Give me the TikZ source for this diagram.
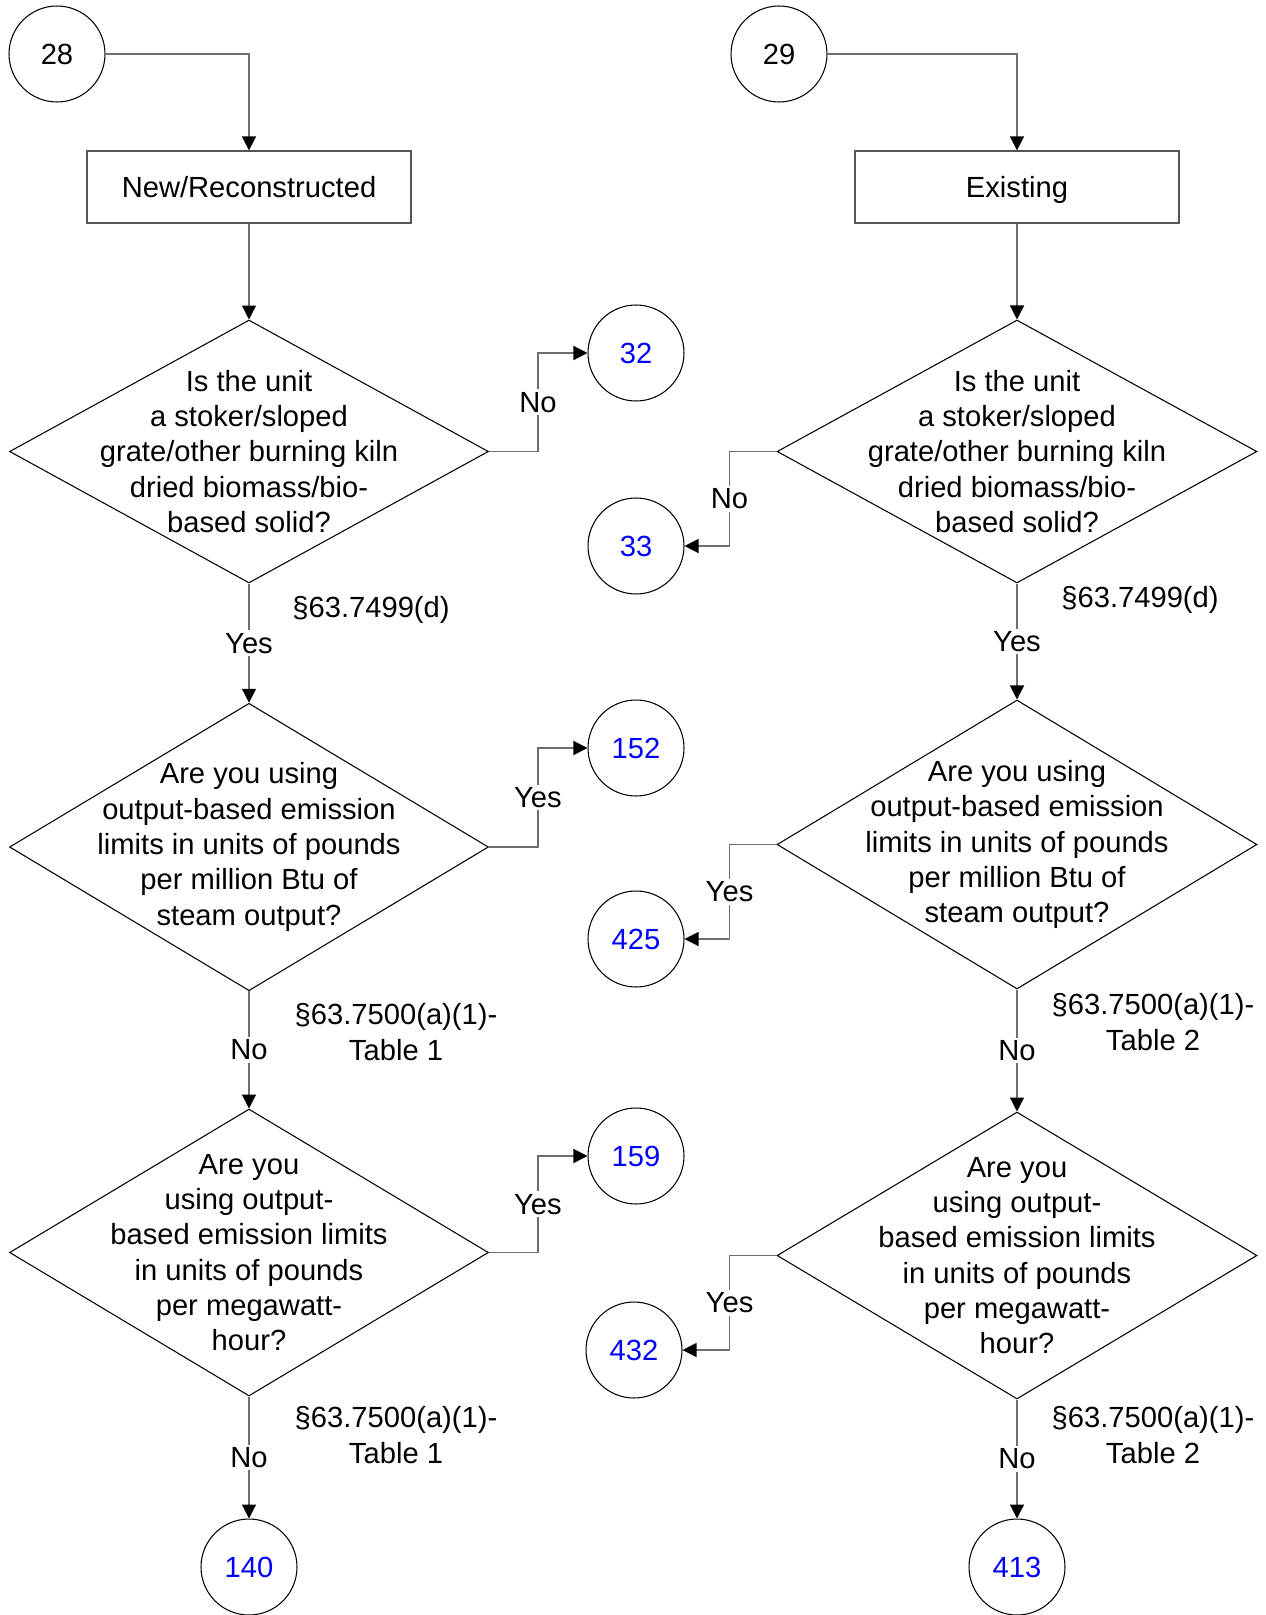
\documentclass[tikz,border=0pt]{standalone}
\usepackage{fontspec}
\setmainfont{Liberation Sans}
\usepackage{xcolor}
\usepackage{tikz}
\usetikzlibrary{arrows.meta,positioning,calc,shapes.geometric}
\definecolor{cInk}{HTML}{000000}
\definecolor{cLink}{HTML}{0000FF}
\definecolor{cWire}{HTML}{6E6E6E}
\definecolor{cEdge}{HTML}{555555}
\tikzset{
  txt/.style={font=\fontsize{16.6}{20.1}\selectfont,text=cInk},
  conn/.style={circle,draw=cInk,line width=0.6pt,minimum size=1.92cm,inner sep=0pt,txt},
  ref/.style={conn,text=cLink},
  procbox/.style={draw=cEdge,line width=0.7pt,minimum width=6.48cm,minimum height=1.44cm,inner sep=0pt,text height=15pt,text depth=3.5pt,txt},
  dec/.style={diamond,draw=cInk,line width=0.6pt,inner sep=0pt,minimum width=#1},
  dec/.default=9.58cm,
  qtext/.style={align=center,txt,inner sep=0pt},
  arr/.style={-{Triangle[length=0.28cm,width=0.28cm,color=cInk]},line width=0.7pt,draw=cWire},
  lbl/.style={txt,fill=white,inner sep=1.5pt},
  cite/.style={txt,align=center},
}

\begin{document}
\begin{tikzpicture}[x=0.02cm,y=-0.02cm]
    \useasboundingbox (0,0) rectangle (1265,1615);
    % left branch: new / reconstructed
    \node[conn] (n28) at (57,54) {28};
    \node[procbox] (newb) at (249,187) {New/Reconstructed};
    \node[dec,minimum height=5.26cm,label={[qtext]center:{Is the unit\\a stoker/sloped\\grate/other burning kiln\\dried biomass/bio-\\based solid?}}] (qa) at (249,451.5) {};
    \node[dec,minimum height=5.75cm,label={[qtext]center:{Are you using\\output-based emission\\limits in units of pounds\\per million Btu of\\steam output?}}] (qb) at (249,847) {};
    \node[dec,minimum height=5.74cm,label={[qtext]center:{Are you\\using output-\\based emission limits\\in units of pounds\\per megawatt-\\hour?}}] (qc) at (249,1252.5) {};
    \node[ref] (n32) at (636,353) {32};
    \node[ref] (n152) at (636,748) {152};
    \node[ref] (n159) at (636,1156) {159};
    \node[ref] (n140) at (249,1567) {140};
    \node[cite] (sa) at (371,610) {§63.7499(d)};
    \node[cite] (sb) at (396,1032) {§63.7500(a)(1)-\\Table 1};
    \node[cite] (sc) at (396,1435) {§63.7500(a)(1)-\\Table 1};

    % right branch: existing
    \node[conn] (n29) at (779,54) {29};
    \node[procbox] (oldb) at (1017,187) {Existing};
    \node[dec=9.6cm,minimum height=5.26cm,label={[qtext]center:{Is the unit\\a stoker/sloped\\grate/other burning kiln\\dried biomass/bio-\\based solid?}}] (ra) at (1017,451.5) {};
    \node[dec=9.6cm,minimum height=5.78cm,label={[qtext]center:{Are you using\\output-based emission\\limits in units of pounds\\per million Btu of\\steam output?}}] (rb) at (1017,844.5) {};
    \node[dec=9.6cm,minimum height=5.74cm,label={[qtext]center:{Are you\\using output-\\based emission limits\\in units of pounds\\per megawatt-\\hour?}}] (rc) at (1017,1255.5) {};
    \node[ref] (n33) at (636,546) {33};
    \node[ref] (n425) at (636,939) {425};
    \node[ref] (n432) at (634,1350) {432};
    \node[ref] (n413) at (1017,1567) {413};
    \node[cite] (ta) at (1140,600) {§63.7499(d)};
    \node[cite] (tb) at (1153,1022) {§63.7500(a)(1)-\\Table 2};
    \node[cite] (tc) at (1153,1435) {§63.7500(a)(1)-\\Table 2};

    \draw[arr] (n28) -| (newb);
    \draw[arr] (newb) -- (qa);
    \draw[arr] (qa) -- node[lbl]{Yes} (qb);
    \draw[arr] (qb) -- node[lbl]{No} (qc);
    \draw[arr] (qc) -- node[lbl]{No} (n140);
    \draw[arr] (qa.east) -- ++(49,0) |- node[lbl,pos=0.25]{No} (n32);
    \draw[arr] (qb.east) -- ++(49,0) |- node[lbl,pos=0.25]{Yes} (n152);
    \draw[arr] (qc.east) -- ++(49,0) |- node[lbl,pos=0.25]{Yes} (n159);

    \draw[arr] (n29) -| (oldb);
    \draw[arr] (oldb) -- (ra);
    \draw[arr] (ra) -- node[lbl]{Yes} (rb);
    \draw[arr] (rb) -- node[lbl]{No} (rc);
    \draw[arr] (rc) -- node[lbl]{No} (n413);
    \draw[arr] (ra.west) -- ++(-47,0) |- node[lbl,pos=0.25]{No} (n33);
    \draw[arr] (rb.west) -- ++(-47,0) |- node[lbl,pos=0.25]{Yes} (n425);
    \draw[arr] (rc.west) -- ++(-47,0) |- node[lbl,pos=0.25]{Yes} (n432);
  \end{tikzpicture}
\end{document}
